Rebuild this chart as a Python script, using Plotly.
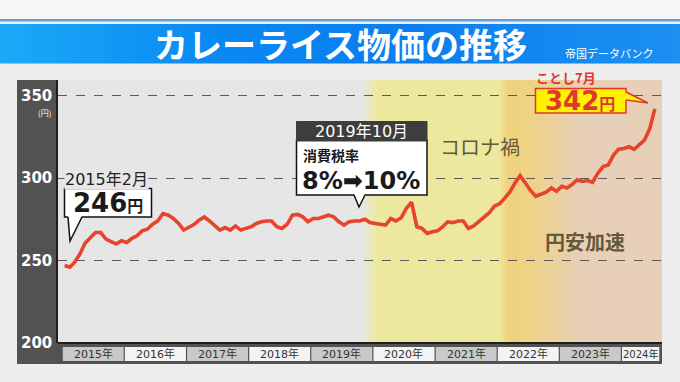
import plotly.graph_objects as go
import pandas as pd

# ---------------- data ----------------
months = pd.date_range("2015-01-01", "2024-07-01", freq="MS") + pd.Timedelta(days=14)
prices = [
    247, 246, 249, 254, 260.5, 264, 267, 267, 263, 261.5, 260, 262,          # 2015
    261, 263.5, 265, 268, 269, 272, 274, 278.5, 277.5, 275.5, 272.5, 268.5,  # 2016
    270.5, 272, 274.5, 276.5, 274, 271, 268.5, 270, 268.5, 271, 268.5, 269.5,  # 2017
    270.5, 272.5, 273.5, 274, 274, 270.5, 269.5, 272, 277.5, 278, 276.5, 273.5,  # 2018
    275.5, 275.5, 276.5, 277.5, 276.5, 273.5, 271.5, 273.5, 274, 274, 275, 273,  # 2019
    272.5, 272, 271.5, 275.5, 274, 276, 281.5, 285.5, 270.5, 269.5, 266.5, 267.5,  # 2020
    268, 270.5, 273.5, 273, 274, 274, 269.5, 271, 273.5, 276, 279, 283,      # 2021
    284.5, 288, 291.5, 297, 301.5, 297, 292.5, 289, 290.5, 291.5, 294, 292,  # 2022
    295, 294, 296, 299, 298, 298.5, 297.5, 303, 307, 308, 314, 317.5,        # 2023
    318, 319, 317.5, 320.5, 323, 330, 342,                                   # 2024
]
years = [2015, 2016, 2017, 2018, 2019, 2020, 2021, 2022, 2023, 2024]
year_labels = [f"{y}年" for y in years]
y_ticks = [200, 250, 300, 350]

title_text = "カレーライス物価の推移"
source_text = "帝国データバンク"

# ---------------- geometry helpers (pixel -> paper) ----------------
L, R, T, B = 58, 662, 80, 343
W, H = R - L, B - T


def px(x):
    return (x - L) / W


def py(y):
    return (B - y) / H


def hex2rgb(h):
    h = h.lstrip("#")
    return tuple(int(h[i:i + 2], 16) for i in (0, 2, 4))


def interp(stops, x):
    for (x0, c0), (x1, c1) in zip(stops[:-1], stops[1:]):
        if x0 <= x <= x1:
            t = 0 if x1 == x0 else (x - x0) / (x1 - x0)
            a, b = hex2rgb(c0), hex2rgb(c1)
            return "rgb(%d,%d,%d)" % tuple(round(a[i] + (b[i] - a[i]) * t) for i in range(3))
    return stops[-1][1]


JP = "Noto Sans CJK JP"
NUM = "DejaVu Sans, Noto Sans CJK JP"

fig = go.Figure()
fig.add_trace(go.Scatter(
    x=months, y=prices, mode="lines",
    line=dict(color="#e8432c", width=3.6),
    hoverinfo="skip", showlegend=False,
))

shapes = []
annotations = []


def text(x, y, s, size, color, family=JP, xanchor="center", **kw):
    d = dict(x=px(x), xref="paper", y=py(y), yref="paper", text=s, showarrow=False,
             xanchor=xanchor, yanchor="middle", font=dict(family=family, size=size, color=color))
    d.update(kw)
    annotations.append(d)


# page decorations
shapes.append(dict(type="rect", xref="paper", yref="paper", x0=px(0), x1=px(680), y0=py(0), y1=py(19),
                   fillcolor="#f6f6f6", line_width=0, layer="below"))
shapes.append(dict(type="rect", xref="paper", yref="paper", x0=px(0), x1=px(680), y0=py(19), y1=py(21.5),
                   fillcolor="#5d9fd6", line_width=0, layer="below"))
title_stops = [(0, "#1aaaf7"), (220, "#0a88f2"), (400, "#0a7ef0"), (680, "#1b90f1")]
step = 8
for x in range(0, 680, step):
    shapes.append(dict(type="rect", xref="paper", yref="paper", x0=px(x), x1=px(x + step + 0.5),
                       y0=py(24), y1=py(63.5), fillcolor=interp(title_stops, x + step / 2),
                       line_width=0, layer="below"))

# dark frame
shapes.append(dict(type="rect", xref="paper", yref="paper", x0=px(17), x1=px(L), y0=py(364), y1=py(T),
                   fillcolor="#525252", line_width=0, layer="below"))
shapes.append(dict(type="rect", xref="paper", yref="paper", x0=px(17), x1=px(R), y0=py(364), y1=py(B),
                   fillcolor="#525252", line_width=0, layer="below"))

# plot background gradient
bg_stops = [(L, "#e6e6e6"), (362, "#e6e6e6"), (378, "#ece99e"), (499, "#ece99e"), (508, "#efd27d"),
            (528, "#eed384"), (582, "#e8cfb8"), (R, "#e8cfb8")]
shapes.append(dict(type="rect", xref="paper", yref="paper", x0=0, x1=px(358), y0=0, y1=1,
                   fillcolor="#e6e6e6", line_width=0, layer="below"))
for x in range(358, 590, 2):
    shapes.append(dict(type="rect", xref="paper", yref="paper", x0=px(x), x1=px(x + 2.5), y0=0, y1=1,
                       fillcolor=interp(bg_stops, x + 1), line_width=0, layer="below"))
shapes.append(dict(type="rect", xref="paper", yref="paper", x0=px(590), x1=1, y0=0, y1=1,
                   fillcolor="#e8cfb8", line_width=0, layer="below"))

# axis lines
shapes.append(dict(type="line", xref="paper", yref="paper", x0=0, x1=1, y0=0, y1=0,
                   line=dict(color="#1e1e1e", width=2), layer="above"))
shapes.append(dict(type="line", xref="paper", yref="paper", x0=px(57), x1=px(57), y0=0, y1=1,
                   line=dict(color="#1e1e1e", width=2), layer="above"))

# year boxes
for i, (yr, lab) in enumerate(zip(years, year_labels)):
    x0 = f"{yr}-01-04"
    x1 = f"{yr}-12-28" if yr != 2024 else "2024-08-10"
    shapes.append(dict(type="rect", xref="x", yref="paper", x0=x0, x1=x1, y0=py(361), y1=py(347),
                       fillcolor="#c9c9c9" if i % 2 == 0 else "#f3f3f3", line_width=0, layer="above"))
    mid = pd.Timestamp(x0) + (pd.Timestamp(x1) - pd.Timestamp(x0)) / 2
    annotations.append(dict(x=mid, xref="x", y=py(354), yref="paper", text=lab, showarrow=False,
                            xanchor="center", yanchor="middle",
                            font=dict(family=NUM, size=11 if yr != 2024 else 10, color="#333333")))

# y labels
for v in y_ticks:
    annotations.append(dict(x=px(53), xref="paper", y=v, yref="y", text=f"<b>{v}</b>", showarrow=False,
                            xanchor="right", yanchor="middle", borderpad=0,
                            font=dict(family="DejaVu Sans", size=15, color="white")))
text(44, 112, "(円)", 8, "white", borderpad=0)

# title
text(340, 44, f"<b>{title_text}</b>", 34, "white")
text(609, 53, source_text, 11, "white")

# --- callout 1: 2015年2月 246円
text(64, 179, "2015年2月", 16, "#222222", family=NUM, xanchor="left", bgcolor="#e6e6e6", borderpad=0)
shapes.append(dict(type="rect", xref="paper", yref="paper", x0=px(64.5), x1=px(151.5), y0=py(217), y1=py(188.5),
                   fillcolor="white", line=dict(color="#111111", width=1.5), layer="above"))
shapes.append(dict(type="path", xref="paper", yref="paper",
                   path=f"M {px(68)},{py(215.5)} L {px(70)},{py(241)} L {px(82)},{py(215.5)} Z",
                   fillcolor="white", line_width=0, layer="above"))
shapes.append(dict(type="path", xref="paper", yref="paper",
                   path=f"M {px(68)},{py(217)} L {px(70)},{py(241)} L {px(82)},{py(217)}",
                   line=dict(color="#111111", width=1.5), layer="above"))
text(108, 203, "<b>246</b><span style='font-size:16px'><b>円</b></span>", 26, "#1a1a1a", family=NUM)

# --- callout 2: 2019年10月 消費税率 8%→10%
shapes.append(dict(type="rect", xref="paper", yref="paper", x0=px(296.5), x1=px(427), y0=py(195), y1=py(140),
                   fillcolor="white", line=dict(color="#111111", width=1.5), layer="above"))
shapes.append(dict(type="rect", xref="paper", yref="paper", x0=px(296.5), x1=px(427), y0=py(141), y1=py(121.5),
                   fillcolor="#3d3d3d", line=dict(color="#3d3d3d", width=1), layer="above"))
shapes.append(dict(type="path", xref="paper", yref="paper",
                   path=f"M {px(354)},{py(193.5)} L {px(359)},{py(207)} L {px(365)},{py(193.5)} Z",
                   fillcolor="white", line_width=0, layer="above"))
shapes.append(dict(type="path", xref="paper", yref="paper",
                   path=f"M {px(354)},{py(195)} L {px(359)},{py(207)} L {px(365)},{py(195)}",
                   line=dict(color="#111111", width=1.5), layer="above"))
text(361.5, 131, "2019年10月", 16, "white", family=NUM)
text(302, 155, "<b>消費税率</b>", 14, "#1a1a1a", xanchor="left", borderpad=0)
text(301, 180.5, "<b>8%➡10%</b>", 24, "#1a1a1a", family="DejaVu Sans", xanchor="left", borderpad=0)

# --- period labels
text(480, 146, "コロナ禍", 20, "#64573c")
text(585, 241, "<b>円安加速</b>", 20, "#64573c")

# --- callout 3: ことし7月 342円
text(534, 78, "<b>ことし7月</b>", 13, "#e0392b", xanchor="left")
shapes.append(dict(type="rect", xref="paper", yref="paper", x0=px(535.5), x1=px(626), y0=py(113), y1=py(88.5),
                   fillcolor="#fff200", line=dict(color="#e0392b", width=1.5), layer="above"))
shapes.append(dict(type="path", xref="paper", yref="paper",
                   path=f"M {px(624.5)},{py(92)} L {px(648)},{py(103)} L {px(624.5)},{py(100)} Z",
                   fillcolor="#fff200", line_width=0, layer="above"))
shapes.append(dict(type="path", xref="paper", yref="paper",
                   path=f"M {px(626)},{py(92)} L {px(648)},{py(103)} L {px(626)},{py(100)}",
                   line=dict(color="#e0392b", width=1.5), layer="above"))
text(580, 101, "<b>342</b><span style='font-size:16px'><b>円</b></span>", 26, "#e0392b", family=NUM)

fig.update_layout(
    width=680, height=382,
    margin=dict(l=L, r=680 - R, t=T, b=382 - B),
    paper_bgcolor="#eeeeee", plot_bgcolor="#e6e6e6",
    showlegend=False,
    xaxis=dict(type="date", range=["2014-12-07", "2024-08-26"], showgrid=False, showticklabels=False,
               zeroline=False, showline=False, ticks="", fixedrange=True),
    yaxis=dict(range=[200, 359.5], tickvals=[250, 300, 350], showticklabels=False, showgrid=True,
               gridcolor="#5a5a5a", griddash="dash", gridwidth=1, zeroline=False, showline=False,
               ticks="", fixedrange=True),
    shapes=shapes, annotations=annotations,
)

fig.write_html("out.html", config={"displayModeBar": False},
               post_script="document.body.style.margin='0';document.body.style.overflow='hidden';")
